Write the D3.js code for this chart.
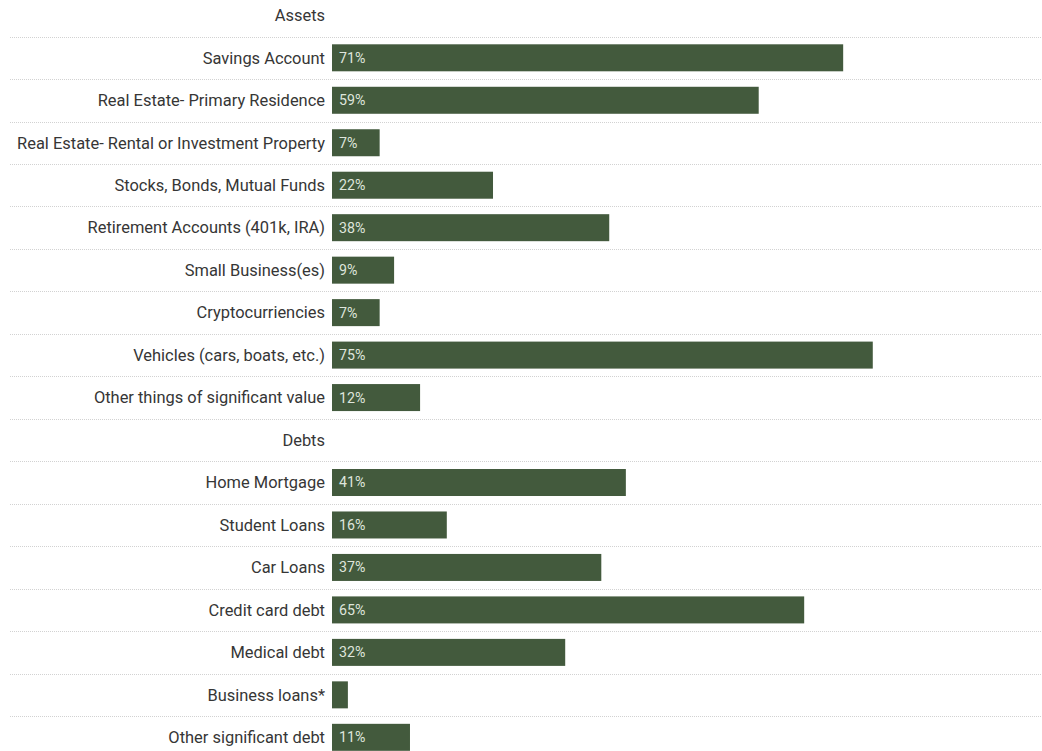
<!DOCTYPE html>
<html>
<head>
<meta charset="utf-8">
<script src="https://cdn.jsdelivr.net/npm/d3@7"></script>
<style>
  html, body { margin: 0; padding: 0; background: #fff; }
  svg { display: block; font-family: Roboto, "Noto Sans", sans-serif; }
</style>
</head>
<body>
<svg id="chart" width="1042" height="751"></svg>
<script>
// Rows in display order; headers have null values
const categories = [
  "Assets",
  "Savings Account",
  "Real Estate- Primary Residence",
  "Real Estate- Rental or Investment Property",
  "Stocks, Bonds, Mutual Funds",
  "Retirement Accounts (401k, IRA)",
  "Small Business(es)",
  "Cryptocurriencies",
  "Vehicles (cars, boats, etc.)",
  "Other things of significant value",
  "Debts",
  "Home Mortgage",
  "Student Loans",
  "Car Loans",
  "Credit card debt",
  "Medical debt",
  "Business loans*",
  "Other significant debt"
];
const values = [
  null, 70.8, 59.1, 6.6, 22.3, 38.4, 8.6, 6.6, 74.9, 12.2,
  null, 40.7, 15.9, 37.3, 65.4, 32.3, 2.2, 10.8
];

const W = 1042, H = 751;
const svg = d3.select("#chart");

const y = d3.scaleBand()
  .domain(categories)
  .range([-5.9, -5.9 + 42.47 * categories.length])
  .padding(0);

const x = d3.scaleLinear().domain([0, 100]).range([332, 332 + 722]);

const rows = categories.map((c, i) => ({ cat: c, v: values[i] }));

// separators between rows
svg.append("g").selectAll("line")
  .data(categories.slice(1))
  .join("line")
  .attr("x1", 10).attr("x2", W)
  .attr("y1", d => Math.round(y(d)) + 0.5)
  .attr("y2", d => Math.round(y(d)) + 0.5)
  .attr("stroke", "#d2d2d2")
  .attr("stroke-width", 1)
  .attr("stroke-dasharray", "1,1");

const barH = 27;

// labels
svg.append("g").selectAll("text")
  .data(rows)
  .join("text")
  .attr("x", 325)
  .attr("y", d => y(d.cat) + y.bandwidth() / 2)
  .attr("dy", "0.35em")
  .attr("text-anchor", "end")
  .attr("fill", "#363636")
  .style("font-size", "16.45px")
  .text(d => d.cat);

const barRows = rows.filter(d => d.v != null);

svg.append("g").selectAll("rect")
  .data(barRows)
  .join("rect")
  .attr("x", x(0))
  .attr("y", d => y(d.cat) + (y.bandwidth() - barH) / 2)
  .attr("width", d => x(d.v) - x(0))
  .attr("height", barH)
  .attr("fill", "#435a3d");

const fmt = v => Math.round(v) + "%";
svg.append("g").selectAll("text")
  .data(barRows.filter(d => d.v >= 4))
  .join("text")
  .attr("x", x(0) + 7)
  .attr("y", d => y(d.cat) + y.bandwidth() / 2)
  .attr("dy", "0.35em")
  .attr("fill", "#dfe5dc")
  .style("font-size", "14.2px")
  .text(d => fmt(d.v));
</script>
</body>
</html>
